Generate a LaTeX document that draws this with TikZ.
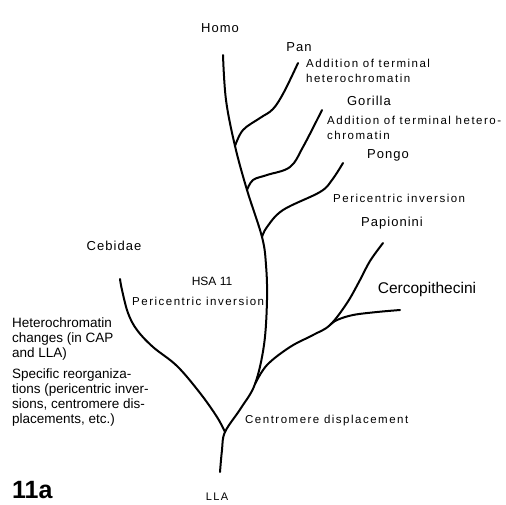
\documentclass[tikz,border=0pt]{standalone}
\usepackage{fontspec}
\setmainfont{Liberation Sans}
\newfontfamily\techfont[LetterSpace=13]{Liberation Sans}
\newfontfamily\techbig[LetterSpace=8]{Liberation Sans}
\begin{document}
\begin{tikzpicture}[x=1pt,y=-1pt,
  br/.style={line width=2pt,line cap=round,line join=round},
  tl/.style={font=\techbig\fontsize{13}{15}\selectfont,inner sep=0pt},
  ts/.style={font=\techfont\fontsize{11.5}{15.5}\selectfont,inner sep=0pt,align=left,anchor=west},
  hv/.style={font=\fontsize{13.5}{14.7}\selectfont,inner sep=0pt,align=left,anchor=west}]
\useasboundingbox (0,0) rectangle (506,504);
% junctions and tips
\coordinate (homo) at (223,55);
\coordinate (jpan) at (235,146);
\coordinate (jgor) at (247,190);
\coordinate (jpon) at (262,237);
\coordinate (jcer) at (255,384);
\coordinate (jceb) at (225,432);
\coordinate (root) at (220,472);
\coordinate (pan) at (298,63);
\coordinate (gor) at (322,110);
\coordinate (pon) at (343,163);
\coordinate (ceb) at (120,279);
\coordinate (jpap) at (330,325);
\coordinate (pap) at (383,243);
\coordinate (cer) at (400,310);
% branches
\draw[br] plot[smooth,tension=0.6] coordinates {(homo) (226,100) (jpan) (jgor) (jpon) (266,265) (267,300) (264,345) (jcer) (241,408) (jceb) (222,450) (root)};
\draw[br] plot[smooth,tension=0.6] coordinates {(jpan) (243,130) (260,118) (273,109) (284,92) (pan)};
\draw[br] plot[smooth,tension=0.6] coordinates {(jgor) (253,180) (267,175) (290,167) (303,147) (gor)};
\draw[br] plot[smooth,tension=0.6] coordinates {(jpon) (267,227) (283,210) (320,192) (332,180) (pon)};
\draw[br] plot[smooth,tension=0.6] coordinates {(ceb) (122,290) (128,313) (137,330) (153,347) (177,366) (200,393) (217,417) (jceb)};
\draw[br] plot[smooth,tension=0.6] coordinates {(jcer) (267,365) (290,347) (313,335) (jpap) (347,303) (360,280) (370,261) (pap)};
\draw[br] plot[smooth,tension=0.6] coordinates {(jpap) (337,320) (353,315) (377,312) (cer)};
% labels
\node[tl] (lhomo) at (220,28) {Homo};
\node[tl] (lpan) at (299,47) {Pan};
\node[ts] (tpan) at (306,71) {Addition of terminal\\heterochromatin};
\node[tl] (lgor) at (369,101) {Gorilla};
\node[ts] (tgor) at (327,128) {Addition of terminal hetero-\\chromatin};
\node[tl] (lpon) at (388,155) {Pongo};
\node[ts] (tpon) at (333,198) {Pericentric inversion};
\node[tl] (lpap) at (392,223) {Papionini};
\node[tl] (lceb) at (114,246) {Cebidae};
\node[font=\fontsize{12}{14}\selectfont,inner sep=0pt] (hsa) at (212,281) {HSA 11};
\node[ts] (thsa) at (132,301) {Pericentric inversion};
\node[font=\fontsize{15.5}{18}\selectfont,inner sep=0pt] (lcer) at (427,289) {Cercopithecini};
\node[hv] (het) at (12,339) {Heterochromatin\\changes (in CAP\\and LLA)};
\node[hv] (spec) at (12,397.5) {Specific reorganiza-\\tions (pericentric inver-\\sions, centromere dis-\\placements, etc.)};
\node[ts] (cen) at (245,421) {Centromere displacement};
\node[font=\techfont\fontsize{11}{12}\selectfont,inner sep=0pt] (lla) at (217,497) {LLA};
\node[font=\bfseries\fontsize{25}{28}\selectfont,inner sep=0pt,anchor=west] (fig) at (12,490) {11a};
\end{tikzpicture}
\end{document}
